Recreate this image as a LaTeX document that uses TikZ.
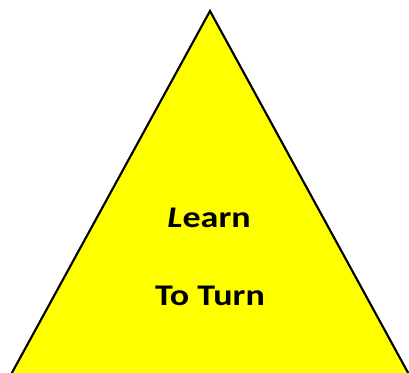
\documentclass[tikz,border=0pt]{standalone}
\usepackage{fontspec}
\setmainfont{Carlito}
\usepackage{tikz}
\usetikzlibrary{positioning}
\definecolor{pyrfill}{RGB}{255,255,0}
\tikzstyle{pyramid} = [draw=black, line width=1.6pt, fill=pyrfill, line join=miter]
\tikzstyle{word} = [font=\bfseries\fontsize{22.5}{26}\selectfont, text centered, inner sep=0pt, anchor=base]

\begin{document}
\begin{tikzpicture}[x=0.75pt, y=-0.75pt]
                    \clip (0,0) rectangle (409,373);
                    \coordinate (top) at (210,11);
                    \coordinate (left) at (8,380);
                    \coordinate (right) at (412,380);
                    \draw [pyramid] (top) -- (right) -- (left) -- cycle;

                    \node (learn) [word] at (209,228) {\scalebox{1.2}[1]{{\itshape L}earn}};
                    \node (turn) [word] at (210,305) {\scalebox{1.2}[1]{To Turn}};
                \end{tikzpicture}
\end{document}
